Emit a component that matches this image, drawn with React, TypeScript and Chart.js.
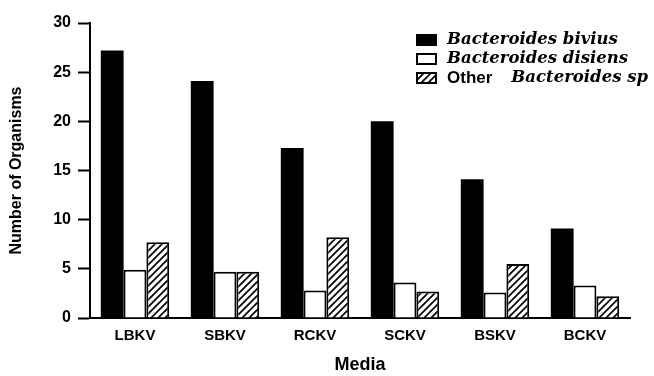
import React, { useEffect, useRef } from "react";
import { Chart, registerables } from "chart.js";

Chart.register(...registerables);

const categories = ["LBKV", "SBKV", "RCKV", "SCKV", "BSKV", "BCKV"];
const biviusValues = [27.2, 24.1, 17.3, 20.0, 14.1, 9.1];
const disiensValues = [4.9, 4.7, 2.8, 3.6, 2.6, 3.3];
const otherValues = [7.7, 4.7, 8.2, 2.7, 5.5, 2.2];
const seriesLabels = ["Bacteroides bivius", "Bacteroides disiens", "Other Bacteroides sp"];
const yTicks = [0, 5, 10, 15, 20, 25, 30];
const xTitle = "Media";
const yTitle = "Number of Organisms";

// legend text parts: [text, italicSerif]
const legendParts: [string, boolean][][] = [
  [["Bacteroides bivius", true]],
  [["Bacteroides disiens", true]],
  [["Other", false], ["Bacteroides sp", true]],
];

const SANS = "'Liberation Sans', Arial, sans-serif";
const SERIF = "'DejaVu Serif', serif";

function makeHatch(): CanvasPattern | string {
  const s = 7;
  const c = document.createElement("canvas");
  c.width = s;
  c.height = s;
  const g = c.getContext("2d");
  if (!g) return "#fff";
  g.fillStyle = "#fff";
  g.fillRect(0, 0, s, s);
  g.strokeStyle = "#000";
  g.lineWidth = 1.7;
  g.beginPath();
  g.moveTo(-1, s + 1);
  g.lineTo(s + 1, -1);
  g.moveTo(-s / 2 - 1, s / 2 + 1);
  g.lineTo(s / 2 + 1, -s / 2 - 1);
  g.moveTo(s / 2 - 1, s * 1.5 + 1);
  g.lineTo(s * 1.5 + 1, s / 2 - 1);
  g.stroke();
  const p = g.createPattern(c, "repeat");
  return p || "#fff";
}

export default function App() {
  const ref = useRef<HTMLCanvasElement | null>(null);

  useEffect(() => {
    if (!ref.current) return;
    const hatch = makeHatch();

    const legendPlugin = {
      id: "customLegend",
      afterDraw(chart: any) {
        const ctx = chart.ctx as CanvasRenderingContext2D;
        ctx.save();
        const boxX = 416;
        const boxW = 21;
        const boxH = 12;
        const textX = 447;
        const rowY = [40, 59, 78];
        const fills: (string | CanvasPattern)[] = ["#000", "#fff", hatch];
        for (let i = 0; i < legendParts.length; i++) {
          const cy = rowY[i];
          ctx.fillStyle = fills[i] as any;
          ctx.fillRect(boxX, cy - boxH / 2, boxW, boxH);
          ctx.strokeStyle = "#000";
          ctx.lineWidth = 2;
          ctx.strokeRect(boxX + 1, cy - boxH / 2 + 1, boxW - 2, boxH - 2);
          let x = textX;
          ctx.textBaseline = "middle";
          ctx.textAlign = "left";
          ctx.fillStyle = "#000";
          for (const [txt, italic] of legendParts[i]) {
            ctx.font = italic ? `italic bold 16.5px ${SERIF}` : `bold 17px ${SANS}`;
            ctx.fillText(txt, x, cy);
            x += ctx.measureText(txt).width + (italic ? 0 : 19);
          }
        }
        ctx.restore();
      },
    };

    const chart = new Chart(ref.current, {
      type: "bar",
      data: {
        labels: categories,
        datasets: [
          {
            label: seriesLabels[0],
            data: biviusValues,
            backgroundColor: "#000",
            borderWidth: 0,
          },
          {
            label: seriesLabels[1],
            data: disiensValues,
            backgroundColor: "#fff",
            borderColor: "#000",
            borderWidth: 2,
          },
          {
            label: seriesLabels[2],
            data: otherValues,
            backgroundColor: hatch as any,
            borderColor: "#000",
            borderWidth: 2,
          },
        ],
      },
      options: {
        responsive: false,
        animation: false,
        layout: { padding: { top: 23, right: 24, bottom: 0, left: 0 } },
        datasets: {
          bar: { categoryPercentage: 0.76, barPercentage: 1.0 },
        },
        plugins: {
          legend: { display: false },
          tooltip: { enabled: false },
        },
        scales: {
          x: {
            grid: { display: false, drawTicks: false },
            border: { display: true, color: "#000", width: 2 },
            ticks: {
              color: "#000",
              font: { family: SANS, size: 15, weight: "bold" },
              padding: 9,
            },
            title: {
              display: true,
              text: xTitle,
              color: "#000",
              font: { family: SANS, size: 18, weight: "bold" },
              padding: { top: 0, bottom: 0 },
            },
            afterFit(scale: any) {
              scale.height = 58;
            },
          },
          y: {
            min: 0,
            max: 30,
            afterBuildTicks(scale: any) {
              scale.ticks = yTicks.map((v) => ({ value: v }));
            },
            grid: {
              drawOnChartArea: false,
              drawTicks: true,
              tickLength: 12,
              tickColor: "#000",
              tickWidth: 2,
            },
            border: { display: true, color: "#000", width: 2 },
            ticks: {
              color: "#000",
              font: { family: SANS, size: 16, weight: "bold" },
              padding: 7,
            },
            title: {
              display: true,
              text: yTitle,
              color: "#000",
              font: { family: SANS, size: 16, weight: "bold" },
              padding: { top: 7, bottom: 0 },
            },
            afterFit(scale: any) {
              scale.width = 90;
            },
          },
        },
      },
      plugins: [legendPlugin],
    });
    return () => chart.destroy();
  }, []);

  return (
    <div style={{ position: "absolute", left: 0, top: 0, width: 654, height: 376, background: "#fff" }}>
      <canvas ref={ref} width={654} height={376} style={{ display: "block" }} />
    </div>
  );
}
